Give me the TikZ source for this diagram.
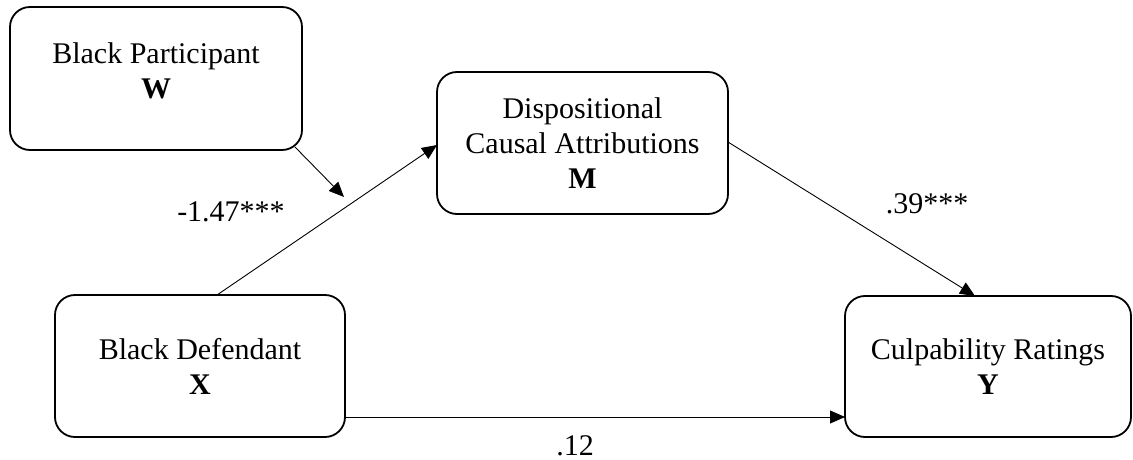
\documentclass[tikz,border=0pt]{standalone}
\usepackage{fontspec}
\setmainfont{Liberation Serif}
\usetikzlibrary{arrows.meta}
\begin{document}
\begin{tikzpicture}[x=1pt,y=-1pt,
  box/.style={draw, line width=1.8pt, rounded corners=20pt, inner sep=0pt},
  txt/.style={font=\fontsize{30}{35}\selectfont, align=center, inner sep=0pt},
  lbl/.style={font=\fontsize{30}{35}\selectfont, inner sep=0pt},
  conn/.style={line width=0.9pt, -{Triangle[length=15pt,width=13pt]}}]
\useasboundingbox (0,0) rectangle (1133,460);
% boxes
\node[box, minimum width=292pt, minimum height=143pt] (W) at (156,78.5) {};
\node[txt] (Wt) at (156,71) {Black Participant\\\textbf{W}};
\node[box, txt, minimum width=291pt, minimum height=142pt] (M) at (582.5,143) {Dispositional\\Causal Attributions\\\textbf{M}};
\node[box, txt, minimum width=290pt, minimum height=142pt] (X) at (200,366) {Black Defendant\\\textbf{X}};
\node[box, txt, minimum width=286pt, minimum height=141pt] (Y) at (988,366.5) {Culpability Ratings\\\textbf{Y}};
% connector anchor points
\coordinate (xm1) at (217,295);
\coordinate (xm2) at (437,145);
\coordinate (w1) at (295,147);
\coordinate (w2) at (344,197);
\coordinate (my1) at (728,142);
\coordinate (my2) at (975,296);
\coordinate (xy1) at (345,417);
\coordinate (xy2) at (845,417);
\draw[conn] (xm1) -- (xm2);
\draw[conn] (w1) -- (w2);
\draw[conn] (my1) -- (my2);
\draw[conn] (xy1) -- (xy2);
% labels
\node[lbl] (a) at (231,212) {-1.47***};
\node[lbl] (b) at (927,204) {.39***};
\node[lbl] (c) at (575,446) {.12};
\end{tikzpicture}
\end{document}
